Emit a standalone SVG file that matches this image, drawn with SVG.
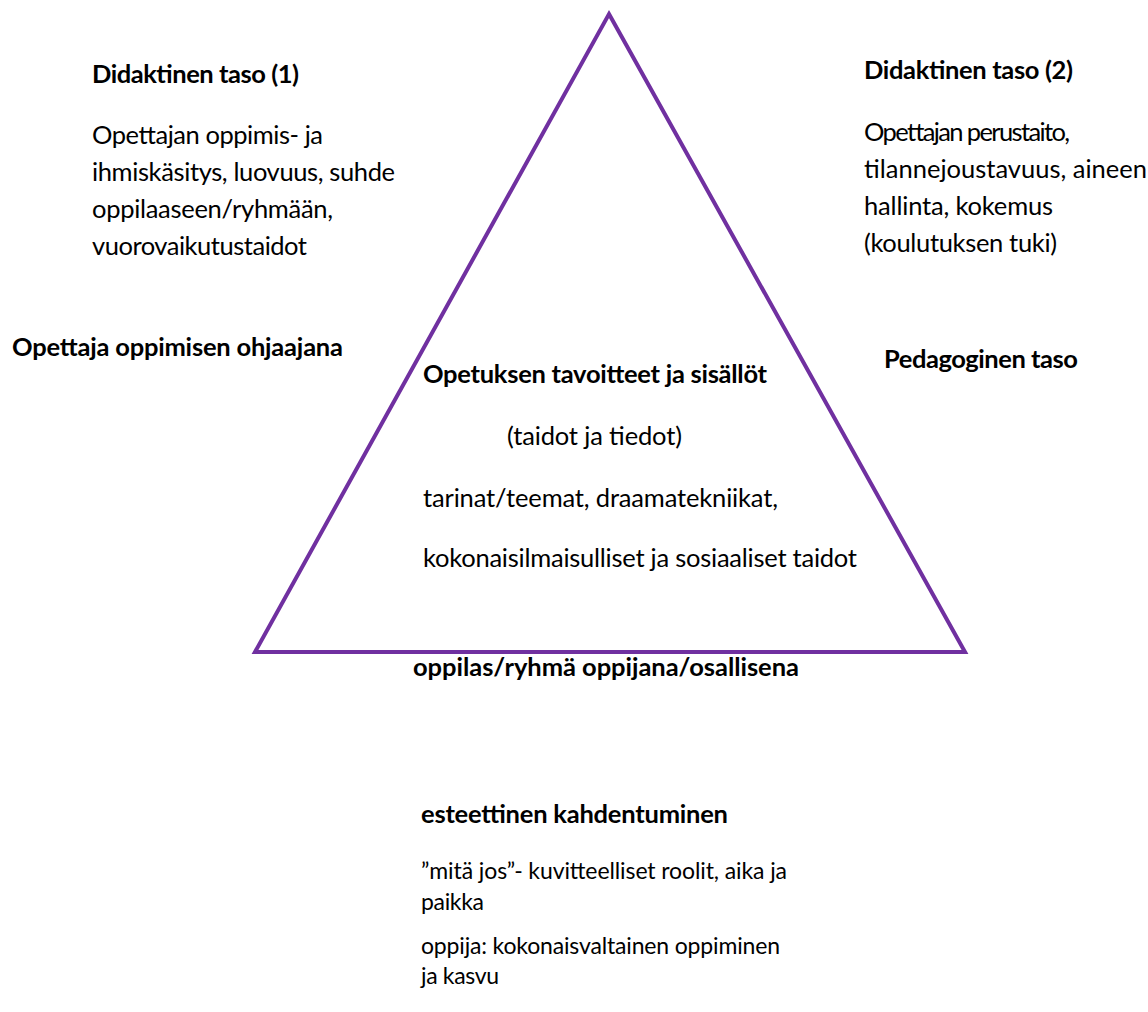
<svg xmlns="http://www.w3.org/2000/svg" width="1148" height="1012" viewBox="0 0 1148 1012">
<style>
text{font-family:Lato,"Open Sans","Liberation Sans",sans-serif;fill:#000;}
.h{font-weight:bold;font-size:25.5px;}
.b{font-size:25.5px;}
.s{font-size:23px;}
.tri{fill:none;stroke:#7030A0;stroke-width:4;stroke-linejoin:miter;}
</style>
<rect width="1148" height="1012" fill="#fff"/>
<g id="connectors">
<g id="triangle"><polygon class="tri" points="609,14 965,652 255,652"/></g>
</g>
<g id="didaktinen1">
<text class="h" x="92" y="83" textLength="207">Didaktinen taso (1)</text>
<text class="b" x="92" y="144" textLength="231">Opettajan oppimis- ja</text>
<text class="b" x="92" y="181" textLength="303">ihmiskäsitys, luovuus, suhde</text>
<text class="b" x="92" y="218" textLength="241">oppilaaseen/ryhmään,</text>
<text class="b" x="92" y="255" textLength="215">vuorovaikutustaidot</text>
</g>
<g id="didaktinen2">
<text class="h" x="864" y="79" textLength="209">Didaktinen taso (2)</text>
<text class="b" x="864" y="141" textLength="206">Opettajan perustaito,</text>
<text class="b" x="864" y="178" textLength="283">tilannejoustavuus, aineen</text>
<text class="b" x="864" y="215" textLength="189">hallinta, kokemus</text>
<text class="b" x="864" y="252" textLength="193">(koulutuksen tuki)</text>
</g>
<g id="opettaja">
<text class="h" x="12" y="356" textLength="331">Opettaja oppimisen ohjaajana</text>
</g>
<g id="pedagoginen">
<text class="h" x="884" y="368" textLength="194">Pedagoginen taso</text>
</g>
<g id="opetuksen">
<text class="h" x="423" y="383" textLength="344">Opetuksen tavoitteet ja sisällöt</text>
<text class="b" x="507" y="445" textLength="175">(taidot ja tiedot)</text>
<text class="b" x="423" y="507" textLength="355">tarinat/teemat, draamatekniikat,</text>
<text class="b" x="423" y="567" textLength="434">kokonaisilmaisulliset ja sosiaaliset taidot</text>
</g>
<g id="oppilas">
<text class="h" x="413" y="676" textLength="386">oppilas/ryhmä oppijana/osallisena</text>
</g>
<g id="esteettinen">
<text class="h" x="421" y="823" textLength="307">esteettinen kahdentuminen</text>
<text class="s" x="421" y="879" textLength="366">”mitä jos”- kuvitteelliset roolit, aika ja</text>
<text class="s" x="421" y="910" textLength="63">paikka</text>
<text class="s" x="421" y="954" textLength="359">oppija: kokonaisvaltainen oppiminen</text>
<text class="s" x="421" y="984" textLength="78">ja kasvu</text>
</g>
</svg>
